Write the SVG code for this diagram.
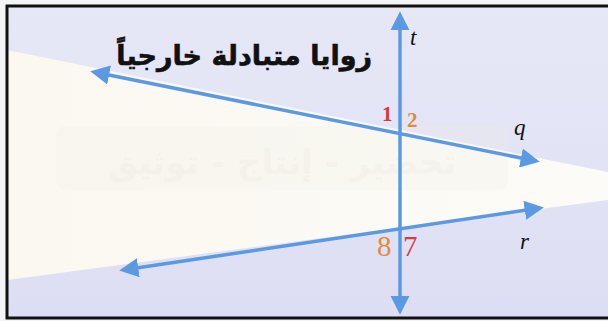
<svg xmlns="http://www.w3.org/2000/svg" width="608" height="321" viewBox="0 0 608 321">
<defs>
<linearGradient id="bg" x1="0" y1="0" x2="0" y2="1">
<stop offset="0" stop-color="#e7e8f6"/>
<stop offset="1" stop-color="#dddef3"/>
</linearGradient>
<linearGradient id="wedge" x1="0" y1="0" x2="1" y2="0">
<stop offset="0" stop-color="#fbf8f0"/>
<stop offset="1" stop-color="#fcfbf7"/>
</linearGradient>
<marker id="ah" viewBox="0 0 10 10" refX="8" refY="5" markerWidth="5.5" markerHeight="5.5" orient="auto-start-reverse" markerUnits="strokeWidth">
<path d="M0,0 L10,5 L0,10 z" fill="#5b9ae2"/>
</marker>
<style>
.ln{stroke:#5b9ae2;stroke-width:3.5;fill:none;marker-start:url(#ah);marker-end:url(#ah)}
.var{font-family:"Liberation Serif",serif;font-style:italic;font-size:23px;fill:#111}
.num{font-family:"Liberation Serif",serif}
</style>
</defs>
<rect x="0" y="0" width="608" height="321" fill="#f4f3f6"/>
<rect x="7" y="6" width="610" height="312" fill="url(#bg)"/>
<polygon points="7,50 608,172 608,200 7,280" fill="url(#wedge)"/>
<g id="watermark" opacity="0.25">
<rect x="56" y="126" width="452" height="64" rx="10" fill="#f2efe8"/>
<text x="282" y="174" text-anchor="middle" font-family="DejaVu Sans,sans-serif" font-weight="bold" font-size="34" fill="#e2ddd4">تحضير - إنتاج - توثيق</text>
</g>
<rect x="7" y="6" width="610" height="312" fill="none" stroke="#111" stroke-width="3"/>
<g id="connectors">
<line class="ln" x1="94" y1="72" x2="536" y2="161"/>
<line class="ln" x1="123" y1="270" x2="540" y2="208"/>
<line class="ln" x1="400" y1="15" x2="400" y2="311"/>
</g>
<g id="title">
<text x="372" y="65" text-anchor="end" font-family="DejaVu Sans,sans-serif" font-weight="bold" font-size="27" stroke="#111" stroke-width="0.6" fill="#111">زوايا متبادلة خارجياً</text>
</g>
<g id="label-t"><text class="var" x="410" y="45">t</text></g>
<g id="label-q"><text class="var" x="514" y="135">q</text></g>
<g id="label-r"><text class="var" x="520" y="249">r</text></g>
<g id="angle-1"><text class="num" x="382" y="121" font-size="21" font-weight="bold" fill="#d93a3d">1</text></g>
<g id="angle-2"><text class="num" x="407" y="127" font-size="21" font-weight="bold" fill="#e38a3c">2</text></g>
<g id="angle-8"><text class="num" x="377" y="256" font-size="29" fill="#e38a3c">8</text></g>
<g id="angle-7"><text class="num" x="403" y="256" font-size="29" fill="#d93a3d">7</text></g>
</svg>
